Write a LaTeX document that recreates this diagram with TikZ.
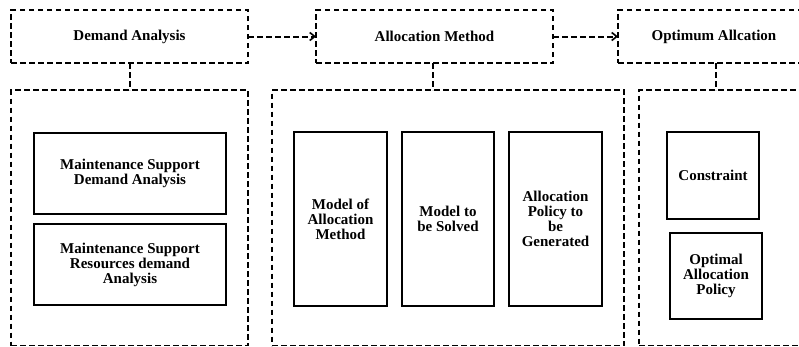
\documentclass[tikz,border=0pt]{standalone}
\usepackage{fontspec}
\setmainfont{Liberation Serif}
\usetikzlibrary{arrows.meta}
\tikzset{
  dbox/.style={draw, line width=1.8pt, dash pattern=on 5.5pt off 3.5pt, rectangle, inner sep=0pt, outer sep=0pt},
  sbox/.style={draw, line width=1.5pt, rectangle, inner sep=0pt, outer sep=0pt, align=center},
  lbl/.style={font=\fontsize{15}{15}\selectfont\bfseries},
  dlink/.style={line width=2pt, dash pattern=on 5.5pt off 3.5pt},
  darrow/.style={dlink, -{Straight Barb[length=5pt,width=8pt,line width=1.6pt]}}
}
\begin{document}
\begin{tikzpicture}[x=1pt,y=-1pt]
\useasboundingbox (0,0) rectangle (799,346);
% top boxes
\node[dbox, lbl, minimum width=237pt, minimum height=53pt] (dem) at (129.5,36.5) {Demand Analysis};
\node[dbox, lbl, minimum width=237pt, minimum height=53pt] (alc) at (434.5,36.5) {Allocation Method};
\node[dbox, lbl, minimum width=192pt, minimum height=53pt] (opt) at (714,36.5) {Optimum Allcation};
% lower boxes
\node[dbox, minimum width=237pt, minimum height=255.5pt] (demL) at (129.5,217.75) {};
\node[dbox, minimum width=352pt, minimum height=255.5pt] (alcL) at (448,217.75) {};
\node[dbox, minimum width=171pt, minimum height=255.5pt] (optL) at (724.5,217.75) {};
% connectors
\draw[darrow] (dem.east) -- (alc.west);
\draw[darrow] (alc.east) -- (opt.west);
\draw[dlink] (dem.south) -- (dem.south |- demL.north);
\draw[dlink] ([xshift=-1.5pt]alc.south) -- ([xshift=-1.5pt]alc.south |- alcL.north);
\draw[dlink] ([xshift=2pt]opt.south) -- ([xshift=2pt]opt.south |- optL.north);
% inner boxes
\node[sbox, lbl, minimum width=192pt, minimum height=81pt] (m1) at (130,173.5) {Maintenance Support\\Demand Analysis};
\node[sbox, lbl, minimum width=192pt, minimum height=81pt] (m2) at (130,264.5) {Maintenance Support\\Resources demand\\Analysis};
\node[sbox, lbl, minimum width=93pt, minimum height=174pt] (a1) at (340.5,219) {Model of\\Allocation\\Method};
\node[sbox, lbl, minimum width=92pt, minimum height=174pt] (a2) at (448,219) {Model to\\be Solved};
\node[sbox, lbl, minimum width=93pt, minimum height=174pt] (a3) at (555.5,219) {Allocation\\Policy to\\be\\Generated};
\node[sbox, lbl, minimum width=92pt, minimum height=87pt] (o1) at (713,175.5) {Constraint};
\node[sbox, lbl, minimum width=92pt, minimum height=86pt] (o2) at (716,276) {Optimal\\Allocation\\Policy};
\end{tikzpicture}
\end{document}
